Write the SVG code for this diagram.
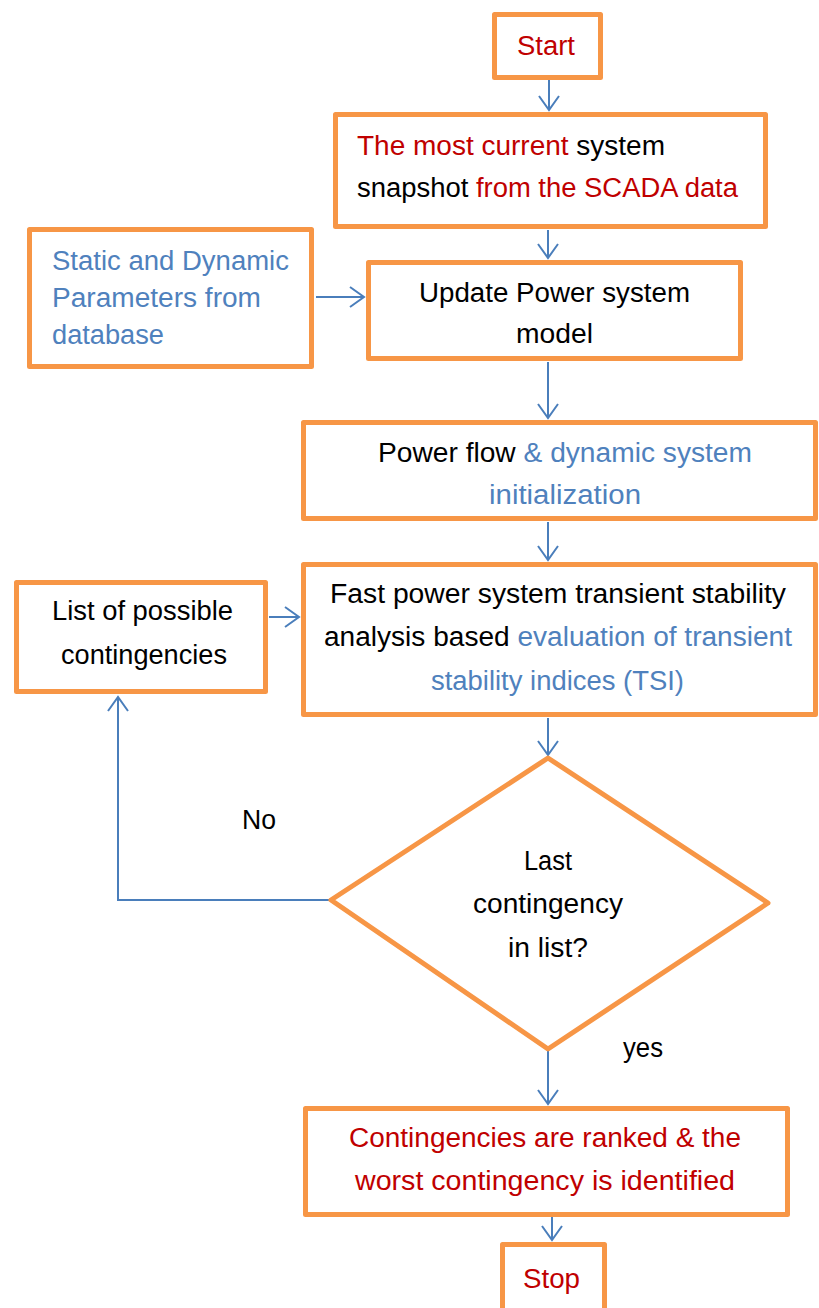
<svg xmlns="http://www.w3.org/2000/svg" width="819" height="1308" viewBox="0 0 819 1308">
<style>
.box{fill:#fff;stroke:#F79646;stroke-width:5;stroke-linejoin:round}
.con{fill:none;stroke:#4A7EBB;stroke-width:2}
text{font-family:"Liberation Sans",Arial,sans-serif;font-size:27px;fill:#000}
.r{fill:#C00000}
.b{fill:#4F81BD}
.k{fill:#000}
</style>
<defs>
<marker id="arr" markerWidth="18" markerHeight="24" refX="15" refY="12" orient="auto" markerUnits="userSpaceOnUse">
<path d="M1,2 L15,12 L1,22" fill="none" stroke="#4A7EBB" stroke-width="2"/>
</marker>
</defs>
<rect width="819" height="1308" fill="#fff"/>
<g id="connectors">
<line class="con" x1="549" y1="80" x2="549" y2="110" marker-end="url(#arr)"/>
<line class="con" x1="548" y1="230" x2="548" y2="258" marker-end="url(#arr)"/>
<line class="con" x1="316" y1="297" x2="364" y2="297" marker-end="url(#arr)"/>
<line class="con" x1="548" y1="362" x2="548" y2="418" marker-end="url(#arr)"/>
<line class="con" x1="548" y1="522" x2="548" y2="560" marker-end="url(#arr)"/>
<line class="con" x1="269" y1="617" x2="299" y2="617" marker-end="url(#arr)"/>
<line class="con" x1="548" y1="718" x2="548" y2="755" marker-end="url(#arr)"/>
<polyline class="con" points="330,900 118,900 118,697" marker-end="url(#arr)"/>
<line class="con" x1="548" y1="1050" x2="548" y2="1104" marker-end="url(#arr)"/>
<line class="con" x1="552" y1="1217" x2="552" y2="1240" marker-end="url(#arr)"/>
</g>
<g id="start">
<rect class="box" x="494.5" y="14.5" width="106" height="63"/>
<text x="517" y="55" textLength="58" lengthAdjust="spacingAndGlyphs" class="r">Start</text>
</g>
<g id="snapshot">
<rect class="box" x="335.5" y="114.5" width="430" height="112"/>
<text x="357" y="155" textLength="308" lengthAdjust="spacingAndGlyphs"><tspan class="r">The most current </tspan><tspan class="k">system</tspan></text>
<text x="357" y="197" textLength="381" lengthAdjust="spacingAndGlyphs"><tspan class="k">snapshot </tspan><tspan class="r">from the SCADA data</tspan></text>
</g>
<g id="params">
<rect class="box" x="29.5" y="229.5" width="282" height="137"/>
<text x="52" y="270" textLength="237" lengthAdjust="spacingAndGlyphs" class="b">Static and Dynamic</text>
<text x="52" y="307" textLength="209" lengthAdjust="spacingAndGlyphs" class="b">Parameters from</text>
<text x="52" y="344" textLength="112" lengthAdjust="spacingAndGlyphs" class="b">database</text>
</g>
<g id="update">
<rect class="box" x="368.5" y="262.5" width="372" height="96"/>
<text x="419" y="302" textLength="271" lengthAdjust="spacingAndGlyphs">Update Power system</text>
<text x="516" y="343" textLength="77" lengthAdjust="spacingAndGlyphs">model</text>
</g>
<g id="powerflow">
<rect class="box" x="303.5" y="422.5" width="512" height="96"/>
<text x="378" y="462" textLength="374" lengthAdjust="spacingAndGlyphs"><tspan class="k">Power flow </tspan><tspan class="b">&amp; dynamic system</tspan></text>
<text x="489" y="504" textLength="152" lengthAdjust="spacingAndGlyphs" class="b">initialization</text>
</g>
<g id="contlist">
<rect class="box" x="16.5" y="582.5" width="249" height="109"/>
<text x="52" y="620" textLength="181" lengthAdjust="spacingAndGlyphs">List of possible</text>
<text x="61" y="664" textLength="166" lengthAdjust="spacingAndGlyphs">contingencies</text>
</g>
<g id="tsa">
<rect class="box" x="303.5" y="564.5" width="512" height="150"/>
<text x="330" y="603" textLength="456" lengthAdjust="spacingAndGlyphs">Fast power system transient stability</text>
<text x="324" y="646" textLength="468" lengthAdjust="spacingAndGlyphs"><tspan class="k">analysis based </tspan><tspan class="b">evaluation of transient</tspan></text>
<text x="431" y="690" textLength="253" lengthAdjust="spacingAndGlyphs" class="b">stability indices (TSI)</text>
</g>
<g id="decision">
<polygon class="box" points="548,758 768,903 548,1049 331,900"/>
<text x="524" y="870" textLength="48" lengthAdjust="spacingAndGlyphs">Last</text>
<text x="473" y="913" textLength="150" lengthAdjust="spacingAndGlyphs">contingency</text>
<text x="508" y="957" textLength="80" lengthAdjust="spacingAndGlyphs">in list?</text>
</g>
<g id="labels">
<text x="242" y="829" textLength="34" lengthAdjust="spacingAndGlyphs">No</text>
<text x="623" y="1057" textLength="40" lengthAdjust="spacingAndGlyphs">yes</text>
</g>
<g id="ranked">
<rect class="box" x="305.5" y="1108.5" width="482" height="106"/>
<text x="349" y="1147" textLength="392" lengthAdjust="spacingAndGlyphs" class="r">Contingencies are ranked &amp; the</text>
<text x="355" y="1190" textLength="380" lengthAdjust="spacingAndGlyphs" class="r">worst contingency is identified</text>
</g>
<g id="stop">
<rect class="box" x="502.5" y="1244.5" width="102" height="80"/>
<text x="523" y="1288" textLength="57" lengthAdjust="spacingAndGlyphs" class="r">Stop</text>
</g>
</svg>
